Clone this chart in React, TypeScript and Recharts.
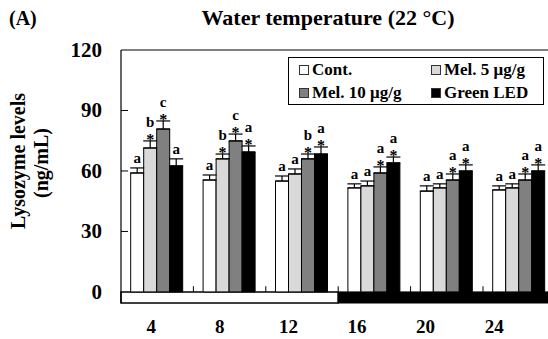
import React from 'react';
import {
  BarChart, Bar, XAxis, YAxis, ErrorBar, LabelList, ReferenceArea, ReferenceLine, Legend,
} from 'recharts';

const days = ['4', '8', '12', '16', '20', '24'];
const seriesNames = ['Cont.', 'Mel. 5 μg/g', 'Mel. 10 μg/g', 'Green LED'];
const seriesColors = ['#ffffff', '#d9d9d9', '#808080', '#000000'];

const cont = [59, 55.5, 55, 51.6, 50, 50.6];
const mel5 = [71.4, 66, 58.5, 52.6, 51.6, 51.6];
const mel10 = [80.8, 74.9, 66, 59, 55.5, 55.5];
const led = [62.5, 69.4, 68.4, 64, 60, 60];

const contErr = [2.5, 2.5, 2.5, 2, 2.6, 2];
const mel5Err = [3.5, 2.4, 2.5, 2.4, 2, 2];
const mel10Err = [4, 3.4, 2.4, 3, 3, 3];
const ledErr = [3.5, 3, 3.5, 2.9, 3, 3];

const contLetters = ['a', 'a', 'a', 'a', 'a', 'a'];
const mel5Letters = ['b', 'b', 'a', 'a', 'a', 'a'];
const mel10Letters = ['c', 'c', 'b', 'a', 'a', 'a'];
const ledLetters = ['a', 'a', 'a', 'a', 'a', 'a'];

const contStars = [false, false, false, false, false, false];
const mel5Stars = [true, true, false, false, false, false];
const mel10Stars = [true, true, true, true, true, true];
const ledStars = [false, true, true, true, true, true];

const yTicks = [0, 30, 60, 90, 120];
const photoMin = -5.5;

const data = days.map((d, i) => ({
  day: d,
  cont: cont[i], contErr: [0, contErr[i]],
  mel5: mel5[i], mel5Err: [0, mel5Err[i]],
  mel10: mel10[i], mel10Err: [0, mel10Err[i]],
  led: led[i], ledErr: [0, ledErr[i]],
}));

const FONT = 'Liberation Serif, DejaVu Serif, serif';

const makeLabel = (letters: string[], stars: boolean[], errs: number[]) => (props: any) => {
  const { x, y, width, height, value, index } = props;
  const i = typeof index === 'number' ? index : 0;
  const ppu = Number(height) / Number(value);
  const errTop = Number(y) - errs[i] * ppu;
  const cx = Number(x) + Number(width) / 2;
  const star = stars[i];
  return (
    <g>
      {star && (
        <text x={cx} y={errTop + 4} textAnchor="middle" style={{ fontFamily: FONT }} fontSize={16} fontWeight="bold" fill="#000">*</text>
      )}
      <text x={cx} y={star ? errTop - 14 : errTop - 5} textAnchor="middle" style={{ fontFamily: FONT }} fontSize={15} fontWeight="bold" fill="#000">
        {letters[i]}
      </text>
    </g>
  );
};

const YTick = (props: any) => {
  const { y, payload } = props;
  const v = payload.value;
  return (
    <g>
      <text x={102} y={y} dy={7} textAnchor="end" style={{ fontFamily: FONT }} fontSize={21} fontWeight="bold" fill="#000">{v}</text>
      {v !== 0 && v !== 120 && <line x1={121} x2={128} y1={y} y2={y} stroke="#000" strokeWidth={1} />}
    </g>
  );
};

const XTick = (props: any) => {
  const { x, payload, index } = props;
  const i = typeof index === 'number' ? index : days.indexOf(payload.value);
  return (
    <text x={x - 6 - 3.8 * i} y={333} textAnchor="middle" style={{ fontFamily: FONT }} fontSize={19} fontWeight="bold" fill="#000">
      {payload.value}
    </text>
  );
};

const LegendBox = () => (
  <div style={{
    border: '1px solid #000', width: 256, height: 48, boxSizing: 'border-box', background: '#fff',
    fontFamily: FONT, fontWeight: 'bold', fontSize: 17, position: 'relative',
  }}>
    {seriesNames.map((n, i) => (
      <div key={n} style={{
        position: 'absolute', left: i % 2 === 0 ? 10 : 142, top: i < 2 ? 2 : 25,
        display: 'flex', alignItems: 'center', whiteSpace: 'nowrap', lineHeight: '20px',
      }}>
        <span style={{
          display: 'inline-block', width: 8, height: 8, border: '1px solid #333',
          background: seriesColors[i], marginRight: 3,
        }} />
        {n}
      </div>
    ))}
  </div>
);

export default function App() {
  return (
    <div style={{ position: 'absolute', left: 0, top: 0, width: 548, height: 339, overflow: 'hidden', background: '#fff' }}>
      <BarChart
        width={570}
        height={339}
        data={data}
        margin={{ top: 50, right: 14.6, bottom: 0, left: 0 }}
        barCategoryGap="13.4%"
        barGap={0}
      >
        <XAxis dataKey="day" height={36} axisLine={false} tickLine={false} tick={<XTick />} interval={0} />
        <YAxis
          width={121}
          domain={[photoMin, 120]}
          ticks={yTicks}
          allowDataOverflow
          axisLine={{ stroke: '#000', strokeWidth: 1.2 }}
          tickLine={false}
          tick={<YTick />}
          interval={0}
        />
        <ReferenceLine y={120} stroke="#000" strokeWidth={1.2} />
        <ReferenceArea x1="4" x2="12" y1={photoMin} y2={0} fill="#fff" fillOpacity={1} stroke="#000" strokeWidth={1.5} ifOverflow="visible" />
        <ReferenceArea x1="16" x2="24" y1={photoMin} y2={0} fill="#000" fillOpacity={1} stroke="#000" strokeWidth={1} ifOverflow="visible" />
        {days.slice(1).map((d) => (
          <ReferenceLine key={d} segment={[{ x: d, y: 0 }, { x: d, y: 2.8 }]} position="start" stroke="#000" strokeWidth={1} />
        ))}
        <Bar dataKey="cont" name={seriesNames[0]} fill={seriesColors[0]} stroke="#000" strokeWidth={1} isAnimationActive={false}>
          <ErrorBar dataKey="contErr" width={7} stroke="#000" strokeWidth={1.2} direction="y" />
          <LabelList dataKey="cont" content={makeLabel(contLetters, contStars, contErr)} />
        </Bar>
        <Bar dataKey="mel5" name={seriesNames[1]} fill={seriesColors[1]} stroke="#000" strokeWidth={1} isAnimationActive={false}>
          <ErrorBar dataKey="mel5Err" width={7} stroke="#000" strokeWidth={1.2} direction="y" />
          <LabelList dataKey="mel5" content={makeLabel(mel5Letters, mel5Stars, mel5Err)} />
        </Bar>
        <Bar dataKey="mel10" name={seriesNames[2]} fill={seriesColors[2]} stroke="#000" strokeWidth={1} isAnimationActive={false}>
          <ErrorBar dataKey="mel10Err" width={7} stroke="#000" strokeWidth={1.2} direction="y" />
          <LabelList dataKey="mel10" content={makeLabel(mel10Letters, mel10Stars, mel10Err)} />
        </Bar>
        <Bar dataKey="led" name={seriesNames[3]} fill={seriesColors[3]} stroke="#000" strokeWidth={1} isAnimationActive={false}>
          <ErrorBar dataKey="ledErr" width={7} stroke="#000" strokeWidth={1.2} direction="y" />
          <LabelList dataKey="led" content={makeLabel(ledLetters, ledStars, ledErr)} />
        </Bar>
        <Legend
          layout="horizontal"
          align="center"
          verticalAlign="middle"
          content={<LegendBox />}
          wrapperStyle={{ position: 'absolute', left: 288, top: 57, width: 256, height: 48 }}
        />
      </BarChart>
      <svg width={548} height={339} style={{ position: 'absolute', left: 0, top: 0, pointerEvents: 'none' }}>
        <text x={9} y={25} style={{ fontFamily: FONT }} fontSize={20} fontWeight="bold" fill="#000">(A)</text>
        <text x={328} y={25} textAnchor="middle" style={{ fontFamily: FONT }} fontSize={22} fontWeight="bold" fill="#000">Water temperature (22 °C)</text>
        <text transform="translate(25,161) rotate(-90)" textAnchor="middle" style={{ fontFamily: FONT }} fontSize={20} fontWeight="bold" fill="#000">Lysozyme levels</text>
        <text transform="translate(48,163) rotate(-90)" textAnchor="middle" style={{ fontFamily: FONT }} fontSize={20} fontWeight="bold" fill="#000">(ng/mL)</text>
      </svg>
    </div>
  );
}
